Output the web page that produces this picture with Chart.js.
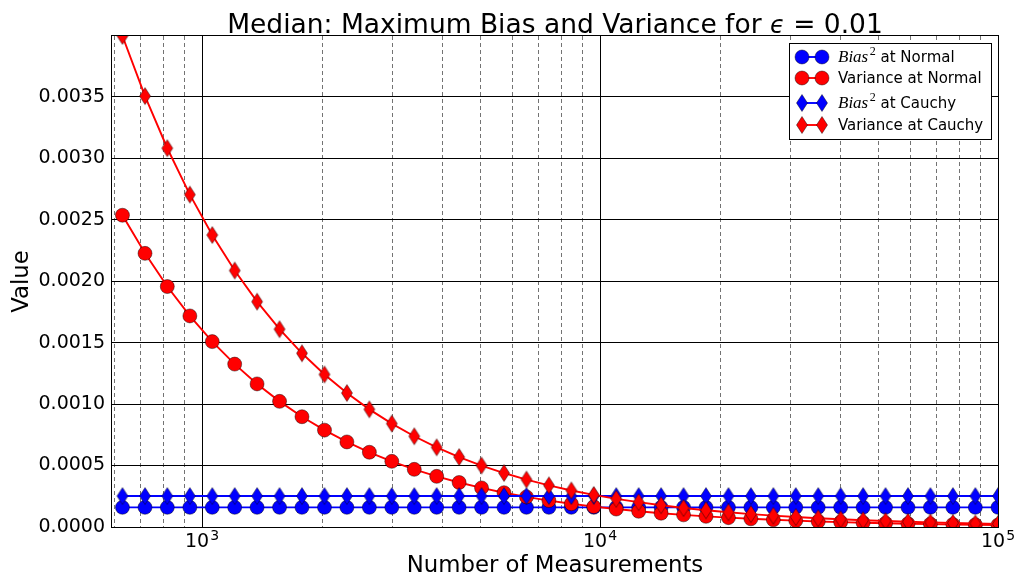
<!DOCTYPE html>
<html>
<head>
<meta charset="utf-8">
<script src="https://cdn.jsdelivr.net/npm/chart.js@4.4.0/dist/chart.umd.min.js"></script>
<style>
  html, body { margin: 0; padding: 0; background: #fff; }
</style>
</head>
<body>
<canvas id="chart" width="1018" height="575"></canvas>
<script>
// sample sizes (log-spaced)
const measurements = [631, 719, 818, 932, 1061, 1208, 1375, 1566, 1783, 2031,
  2312, 2633, 2998, 3414, 3887, 4426, 5039, 5738, 6534, 7440,
  8471, 9646, 10983, 12506, 14240, 16215, 18463, 21023, 23938, 27257,
  31036, 35340, 40240, 45820, 52173, 59407, 67644, 77024, 87704, 100000];

const biasNormal = [0.00016, 0.00016, 0.00016, 0.00016, 0.00016, 0.00016, 0.00016, 0.00016, 0.00016, 0.00016,
  0.00016, 0.00016, 0.00016, 0.00016, 0.00016, 0.00016, 0.00016, 0.00016, 0.00016, 0.00016,
  0.00016, 0.00016, 0.00016, 0.00016, 0.00016, 0.00016, 0.00016, 0.00016, 0.00016, 0.00016,
  0.00016, 0.00016, 0.00016, 0.00016, 0.00016, 0.00016, 0.00016, 0.00016, 0.00016, 0.00016];

const varNormal = [0.002536, 0.002226, 0.001956, 0.001717, 0.001508, 0.001325, 0.001164, 0.001022, 0.000897, 0.000788,
  0.000692, 0.000608, 0.000534, 0.000469, 0.000412, 0.000362, 0.000318, 0.000279, 0.000245, 0.000215,
  0.000189, 0.000166, 0.000146, 0.000128, 0.000112, 0.0000987, 0.0000867, 0.0000761, 0.0000668, 0.0000587,
  0.0000516, 0.0000453, 0.0000398, 0.0000349, 0.0000307, 0.0000269, 0.0000237, 0.0000208, 0.0000182, 0.000016];

const biasCauchy = [0.000252, 0.000252, 0.000252, 0.000252, 0.000252, 0.000252, 0.000252, 0.000252, 0.000252, 0.000252,
  0.000252, 0.000252, 0.000252, 0.000252, 0.000252, 0.000252, 0.000252, 0.000252, 0.000252, 0.000252,
  0.000252, 0.000252, 0.000252, 0.000252, 0.000252, 0.000252, 0.000252, 0.000252, 0.000252, 0.000252,
  0.000252, 0.000252, 0.000252, 0.000252, 0.000252, 0.000252, 0.000252, 0.000252, 0.000252, 0.000252];

const varCauchy = [0.003994, 0.003505, 0.003081, 0.002704, 0.002375, 0.002086, 0.001833, 0.001609, 0.001413, 0.001241,
  0.00109, 0.000957, 0.000841, 0.000738, 0.000648, 0.000569, 0.0005, 0.000439, 0.000386, 0.000339,
  0.000297, 0.000261, 0.000229, 0.000202, 0.000177, 0.000155, 0.000136, 0.00012, 0.000105, 0.0000925,
  0.0000812, 0.0000713, 0.0000626, 0.000055, 0.0000483, 0.0000424, 0.0000373, 0.0000327, 0.0000287, 0.0000252];

const seriesLabels = ['Bias^2 at Normal', 'Variance at Normal', 'Bias^2 at Cauchy', 'Variance at Cauchy'];

const xDecades = [1000, 10000, 100000];
const xMinor = [600, 700, 800, 900, 2000, 3000, 4000, 5000, 6000, 7000, 8000, 9000,
  20000, 30000, 40000, 50000, 60000, 70000, 80000, 90000];

const FONT = '"DejaVu Sans", sans-serif';
const BLUE = '#0000ff';
const RED = '#ff0000';
const EDGE = 'rgba(0,0,0,0.55)';

// matplotlib-style thin diamond marker as a small canvas
function thinDiamond(fill) {
  const c = document.createElement('canvas');
  c.width = 14; c.height = 20;
  const g = c.getContext('2d');
  g.beginPath();
  g.moveTo(7, 1.5); g.lineTo(12.5, 10); g.lineTo(7, 18.5); g.lineTo(1.5, 10);
  g.closePath();
  g.fillStyle = fill; g.fill();
  g.lineWidth = 0.8; g.strokeStyle = EDGE; g.stroke();
  return c;
}
const diamondBlue = thinDiamond(BLUE);
const diamondRed = thinDiamond(RED);

function points(ys) {
  return measurements.map((n, i) => ({ x: n, y: ys[i] }));
}

function series(label, ys, color, marker, order) {
  return {
    label: label,
    data: points(ys),
    borderColor: color,
    borderWidth: 1.9,
    backgroundColor: color,
    pointStyle: marker,
    pointRadius: 7,
    pointBackgroundColor: color,
    pointBorderColor: EDGE,
    pointBorderWidth: 0.8,
    tension: 0,
    clip: 0,
    order: order
  };
}

// dashed minor gridlines under the data
const minorGrid = {
  id: 'minorGrid',
  beforeDatasetsDraw(chart) {
    const { ctx, chartArea: a, scales: { x } } = chart;
    ctx.save();
    ctx.strokeStyle = 'rgba(0,0,0,0.55)';
    ctx.lineWidth = 1;
    ctx.setLineDash([4, 3]);
    xMinor.forEach(v => {
      const px = Math.round(x.getPixelForValue(v)) + 0.5;
      if (px < a.left || px > a.right) return;
      ctx.beginPath();
      ctx.moveTo(px, a.top);
      ctx.lineTo(px, a.bottom);
      ctx.stroke();
    });
    ctx.restore();
  }
};

function drawLabel(ctx, text, x, y) {
  // "Bias^2 ..." -> math italic word with a superscript
  const m = text.match(/^(\w+)\^(\w)(.*)$/);
  ctx.textAlign = 'left';
  ctx.textBaseline = 'alphabetic';
  if (!m) {
    ctx.font = '15px ' + FONT;
    ctx.fillText(text, x, y);
    return;
  }
  ctx.font = 'italic 17px "Liberation Serif", serif';
  ctx.fillText(m[1], x, y);
  x += ctx.measureText(m[1]).width + 1.5;
  ctx.font = '12px "Liberation Serif", serif';
  ctx.fillText(m[2], x, y - 7);
  x += ctx.measureText(m[2]).width;
  ctx.font = '15px ' + FONT;
  ctx.fillText(m[3], x, y);
}

// frame, title, axis titles, decade labels and legend
const decorations = {
  id: 'decorations',
  afterDraw(chart) {
    const { ctx, chartArea: a, scales: { x } } = chart;
    ctx.save();
    ctx.strokeStyle = '#000';
    ctx.lineWidth = 1;
    ctx.strokeRect(Math.round(a.left) - 0.5, Math.round(a.top) - 0.5,
      Math.round(a.right - a.left) + 1, Math.round(a.bottom - a.top) + 1);

    ctx.fillStyle = '#000';
    const cx = (a.left + a.right) / 2;

    // title
    const t1 = 'Median: Maximum Bias and Variance for ';
    const t2 = '\u03f5';
    const t3 = ' = 0.01';
    const tf = '26.5px ' + FONT;
    const tfi = 'italic 24px ' + FONT;
    ctx.font = tf;
    const w1 = ctx.measureText(t1).width, w3 = ctx.measureText(t3).width;
    ctx.font = tfi;
    const w2 = ctx.measureText(t2).width;
    const tx = cx - (w1 + w2 + w3) / 2;
    ctx.textAlign = 'left';
    ctx.textBaseline = 'alphabetic';
    ctx.font = tf;
    ctx.fillText(t1, tx, 33);
    ctx.font = tfi;
    ctx.fillText(t2, tx + w1, 33);
    ctx.font = tf;
    ctx.fillText(t3, tx + w1 + w2, 33);

    // axis titles
    ctx.font = '22.8px ' + FONT;
    ctx.textAlign = 'center';
    ctx.fillText('Number of Measurements', cx, 572);
    ctx.save();
    ctx.translate(28, (a.top + a.bottom) / 2);
    ctx.rotate(-Math.PI / 2);
    ctx.fillText('Value', 0, 0);
    ctx.restore();

    // decade tick labels 10^k
    xDecades.forEach(v => {
      const px = x.getPixelForValue(v);
      const exp = String(Math.round(Math.log10(v)));
      ctx.font = '19px ' + FONT;
      const wb = ctx.measureText('10').width;
      ctx.font = '14px ' + FONT;
      const we = ctx.measureText(exp).width;
      const left = px - (wb + we + 1) / 2;
      ctx.textAlign = 'left';
      ctx.font = '19px ' + FONT;
      ctx.fillText('10', left, 547);
      ctx.font = '14px ' + FONT;
      ctx.fillText(exp, left + wb + 1, 540);
    });

    // legend
    const lx = 789.5, ly = 43.5, lw = 202, lh = 96;
    ctx.fillStyle = '#fff';
    ctx.fillRect(lx, ly, lw, lh);
    ctx.strokeStyle = '#000';
    ctx.strokeRect(lx, ly, lw, lh);
    const rows = [57, 78, 103, 125];
    chart.data.datasets.forEach((ds, i) => {
      const y = rows[i];
      ctx.strokeStyle = ds.borderColor;
      ctx.lineWidth = 1.9;
      ctx.beginPath();
      ctx.moveTo(802, y);
      ctx.lineTo(822, y);
      ctx.stroke();
      [802, 822].forEach(mx => {
        if (ds.pointStyle === 'circle') {
          ctx.beginPath();
          ctx.arc(mx, y, 7, 0, Math.PI * 2);
          ctx.fillStyle = ds.pointBackgroundColor;
          ctx.fill();
          ctx.lineWidth = 0.8;
          ctx.strokeStyle = EDGE;
          ctx.stroke();
        } else {
          ctx.drawImage(ds.pointStyle, mx - 7, y - 10);
        }
      });
      ctx.fillStyle = '#000';
      drawLabel(ctx, ds.label, 838, y + 5);
    });
    ctx.restore();
  }
};

new Chart(document.getElementById('chart'), {
  type: 'line',
  data: {
    datasets: [
      series(seriesLabels[0], biasNormal, BLUE, 'circle', 4),
      series(seriesLabels[1], varNormal, RED, 'circle', 3),
      series(seriesLabels[2], biasCauchy, BLUE, diamondBlue, 2),
      series(seriesLabels[3], varCauchy, RED, diamondRed, 1)
    ]
  },
  options: {
    responsive: false,
    animation: false,
    devicePixelRatio: 1,
    layout: { padding: { top: 36, right: 20, left: 0, bottom: 0 } },
    plugins: {
      legend: { display: false },
      title: { display: false },
      tooltip: { enabled: false }
    },
    scales: {
      x: {
        type: 'logarithmic',
        min: 594,
        max: 100000,
        afterBuildTicks(scale) {
          scale.ticks = xDecades.map(v => ({ value: v }));
        },
        afterFit(scale) { scale.height = 48; },
        ticks: { display: false },
        grid: { color: '#000', lineWidth: 1, drawTicks: false },
        border: { display: false }
      },
      y: {
        type: 'linear',
        min: 0,
        max: Math.max(...varCauchy),
        afterFit(scale) { scale.width = 112; },
        ticks: {
          stepSize: 0.0005,
          includeBounds: false,
          padding: 7,
          color: '#000',
          font: { family: FONT, size: 19 },
          callback: v => Number(v).toFixed(4)
        },
        grid: { color: '#000', lineWidth: 1, drawTicks: false },
        border: { display: false }
      }
    }
  },
  plugins: [minorGrid, decorations]
});
</script>
</body>
</html>
